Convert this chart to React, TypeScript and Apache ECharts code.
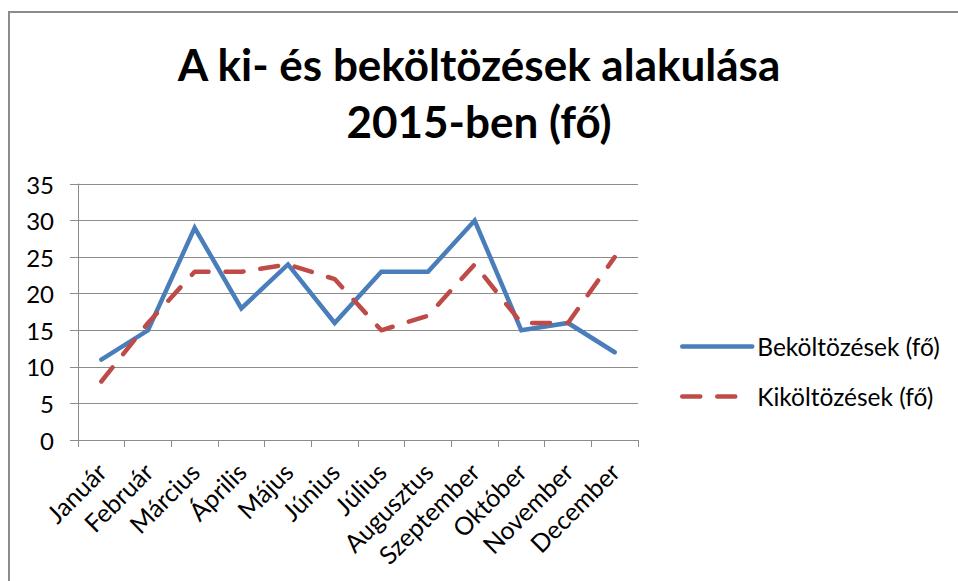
import React, { useEffect, useRef } from "react";
import * as echarts from "echarts";

const categories = [
  "Január", "Február", "Március", "Április", "Május", "Június",
  "Július", "Augusztus", "Szeptember", "Október", "November", "December",
];
const bekoltozesek = [11, 15, 29, 18, 24, 16, 23, 23, 30, 15, 16, 12];
const kikoltozesek = [8, 16, 23, 23, 24, 22, 15, 17, 24, 16, 16, 25];
const seriesNames = ["Beköltözések (fő)", "Kiköltözések (fő)"];
const titleLines = ["A ki- és beköltözések alakulása", "2015-ben (fő)"];

const FONT = "Lato, 'Open Sans', sans-serif";

export default function App() {
  const ref = useRef<HTMLDivElement>(null);
  useEffect(() => {
    if (!ref.current) return;
    const chart = echarts.init(ref.current, undefined, { renderer: "svg" });
    chart.setOption({
      animation: false,
      backgroundColor: "#ffffff",
      graphic: [
        {
          type: "line",
          shape: { x1: 9, y1: 12, x2: 9, y2: 600 },
          style: { stroke: "#8c8c8c", lineWidth: 2 },
          silent: true,
        },
        {
          type: "line",
          shape: { x1: 8, y1: 12, x2: 960, y2: 12 },
          style: { stroke: "#8c8c8c", lineWidth: 2 },
          silent: true,
        },
        {
          type: "text",
          x: 479,
          y: 64,
          style: {
            text: titleLines[0],
            fontFamily: FONT,
            fontSize: 44,
            fontWeight: "bold",
            fill: "#000000",
            align: "center",
            verticalAlign: "middle",
          },
        },
        {
          type: "text",
          x: 479,
          y: 121,
          style: {
            text: titleLines[1],
            fontFamily: FONT,
            fontSize: 44,
            fontWeight: "bold",
            fill: "#000000",
            align: "center",
            verticalAlign: "middle",
          },
        },
      ],
      legend: {
        orient: "vertical",
        left: 675,
        top: 329,
        itemWidth: 70,
        itemHeight: 24,
        itemGap: 25,
        itemStyle: { opacity: 0 },
        lineStyle: { width: 4.5 },
        textStyle: { fontFamily: FONT, fontSize: 24.5, color: "#000000" },
        data: seriesNames,
      },
      grid: { left: 78, right: 320, top: 184, bottom: 141 },
      xAxis: {
        type: "category",
        data: categories,
        boundaryGap: true,
        axisLine: { lineStyle: { color: "#8c8c8c", width: 1 } },
        axisTick: { show: true, length: 7, lineStyle: { color: "#8c8c8c" } },
        axisLabel: {
          rotate: 45,
          interval: 0,
          margin: 27,
          fontFamily: FONT,
          fontSize: 25,
          color: "#000000",
        },
      },
      yAxis: {
        type: "value",
        min: 0,
        max: 35,
        interval: 5,
        axisLine: { show: true, lineStyle: { color: "#8c8c8c", width: 1 } },
        axisTick: { show: true, length: 8, lineStyle: { color: "#8c8c8c" } },
        splitLine: { lineStyle: { color: "#8c8c8c", width: 1 } },
        axisLabel: {
          margin: 24,
          fontFamily: FONT,
          fontSize: 24,
          color: "#000000",
        },
      },
      series: [
        {
          name: seriesNames[0],
          type: "line",
          data: bekoltozesek,
          showSymbol: false,
          symbol: "none",
          lineStyle: { color: "#4a7ebb", width: 4.5, cap: "round", join: "miter" },
          itemStyle: { color: "#4a7ebb" },
        },
        {
          name: seriesNames[1],
          type: "line",
          data: kikoltozesek,
          showSymbol: false,
          symbol: "none",
          lineStyle: {
            color: "#be4b48",
            width: 4.5,
            type: [18, 17],
            cap: "round",
            join: "round",
          },
          itemStyle: { color: "#be4b48" },
        },
      ],
    });
    return () => chart.dispose();
  }, []);
  return (
    <div
      ref={ref}
      style={{ position: "absolute", left: 0, top: 0, width: 958, height: 581 }}
    />
  );
}
